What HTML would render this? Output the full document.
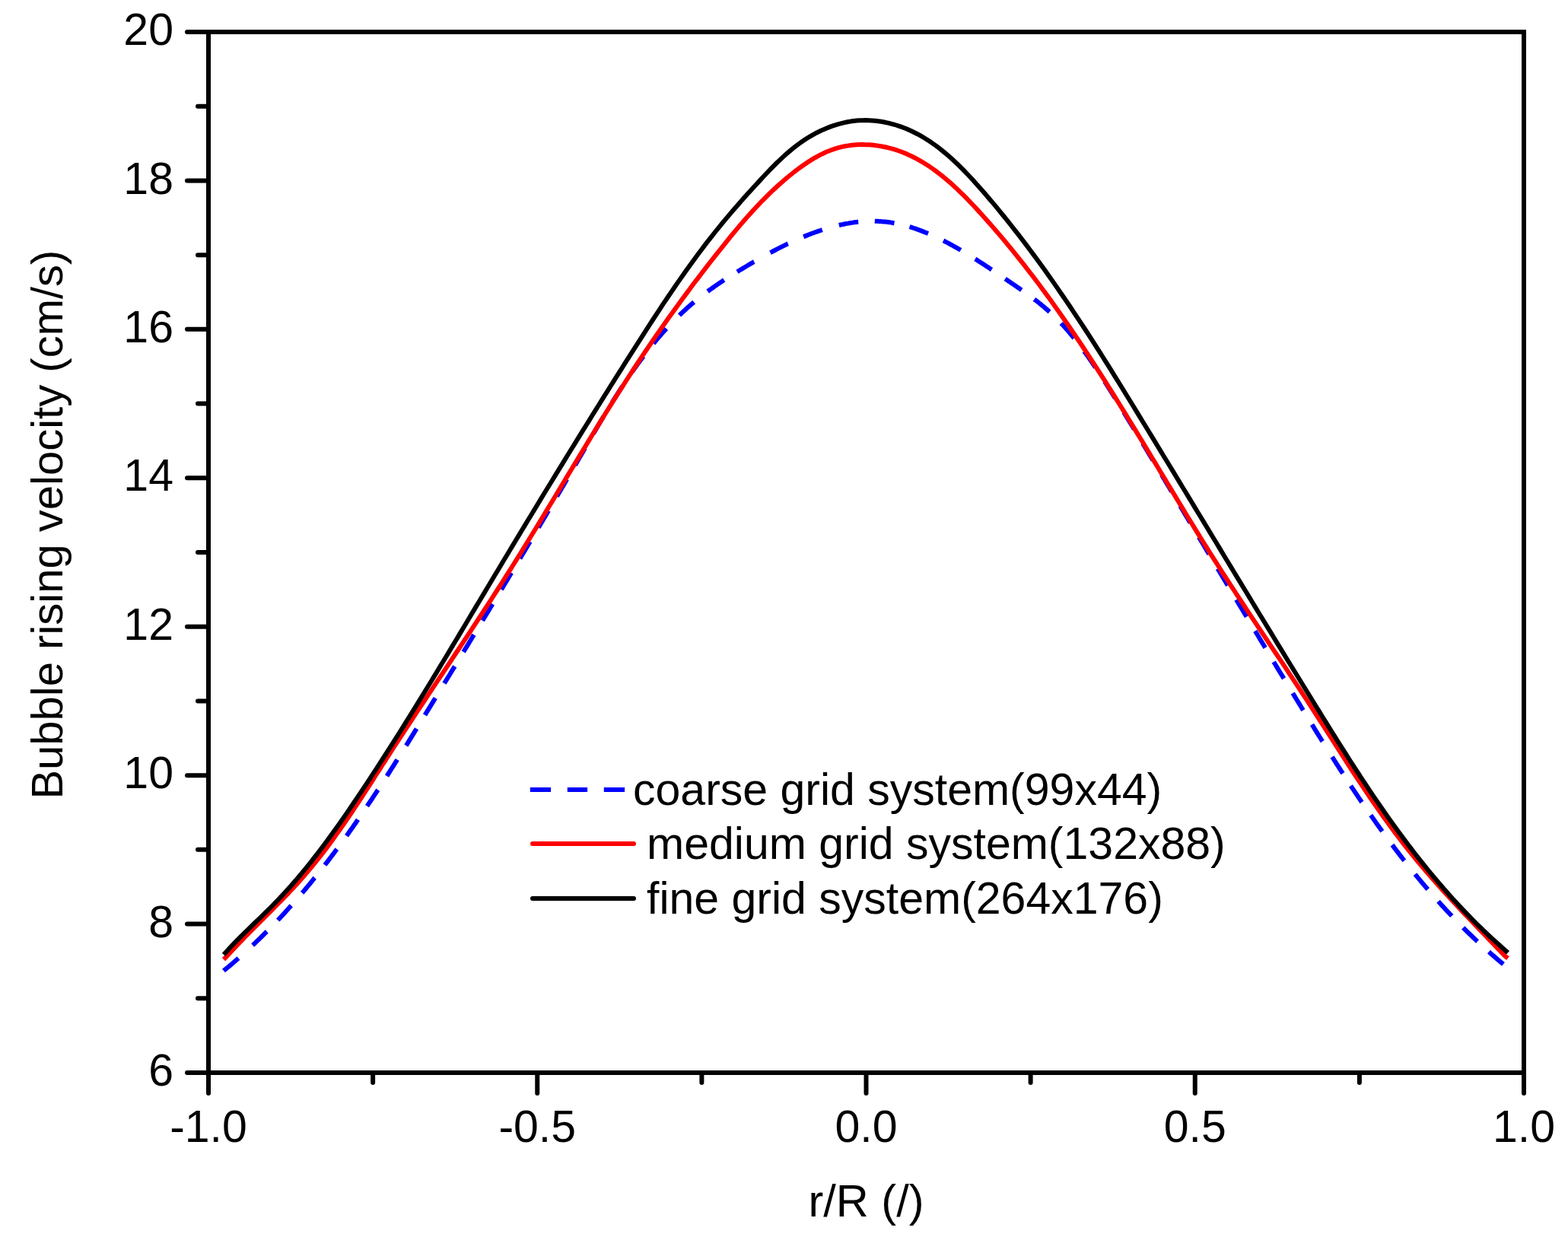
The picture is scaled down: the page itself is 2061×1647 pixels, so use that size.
<!DOCTYPE html>
<html><head><meta charset="utf-8"><title>Bubble rising velocity</title>
<style>
html,body{margin:0;padding:0;background:#fff;}
body{width:2061px;height:1647px;overflow:hidden;}
svg{display:block;}
text{font-family:"Liberation Sans", Arial, Helvetica, sans-serif;fill:#000;}
</style></head><body>
<svg width="2061" height="1647" viewBox="0 0 2061 1647" xmlns="http://www.w3.org/2000/svg">
<rect x="0" y="0" width="2061" height="1647" fill="#fff"/>
<g id="curves" fill="none" stroke-width="6" stroke-linejoin="round">
<path d="M294.0,1276.0 L296.0,1274.3 L298.0,1272.7 L300.0,1271.0 L302.0,1269.4 L304.0,1267.7 L306.0,1266.0 L308.0,1264.3 L310.0,1262.5 L312.0,1260.8 L313.5,1259.5 M332.2,1242.4 L334.2,1240.6 L336.2,1238.6 L338.2,1236.7 L340.2,1234.8 L342.2,1232.9 L344.2,1230.9 L346.2,1228.9 L348.2,1226.9 L350.2,1224.9 L350.8,1224.4 M365.2,1209.5 L367.2,1207.4 L369.2,1205.2 L371.2,1203.1 L373.2,1200.9 L375.2,1198.7 L377.2,1196.5 L379.2,1194.3 L381.2,1192.1 L382.8,1190.4 M397.2,1173.7 L399.2,1171.4 L401.2,1169.0 L403.2,1166.6 L405.2,1164.2 L407.2,1161.8 L409.2,1159.3 L411.2,1156.9 L413.2,1154.4 L413.8,1153.8 M427.0,1137.0 L429.0,1134.4 L431.0,1131.8 L433.0,1129.2 L435.0,1126.5 L437.0,1123.9 L439.0,1121.2 L441.0,1118.5 L442.8,1116.2 M455.5,1098.7 L457.5,1095.9 L459.5,1093.1 L461.5,1090.2 L463.5,1087.4 L465.5,1084.5 L467.5,1081.7 L469.5,1078.8 L470.5,1077.3 M482.5,1059.7 L484.5,1056.7 L486.5,1053.8 L488.5,1050.8 L490.5,1047.7 L492.5,1044.7 L494.5,1041.7 L496.5,1038.6 L496.8,1038.2 M508.5,1020.1 L510.5,1017.0 L512.5,1013.8 L514.5,1010.7 L516.5,1007.6 L518.5,1004.4 L520.5,1001.2 L522.2,998.5 M533.8,980.1 L535.8,976.9 L537.8,973.6 L539.8,970.4 L541.8,967.2 L543.8,963.9 L545.8,960.7 L547.5,957.8 M558.5,939.9 L560.5,936.7 L562.5,933.4 L564.5,930.1 L566.5,926.9 L568.5,923.6 L570.5,920.4 L572.2,917.5 M584.0,898.3 L586.0,895.0 L588.0,891.7 L590.0,888.5 L592.0,885.2 L594.0,881.9 L596.0,878.7 L597.8,875.8 M609.2,856.9 L611.2,853.7 L613.2,850.4 L615.2,847.1 L617.2,843.8 L619.2,840.5 L621.2,837.2 L623.0,834.4 M634.2,815.8 L636.2,812.5 L638.2,809.2 L640.2,805.9 L642.2,802.6 L644.2,799.3 L646.2,796.0 L647.5,794.0 M659.0,774.9 L661.0,771.6 L663.0,768.3 L665.0,765.0 L667.0,761.7 L669.0,758.3 L671.0,755.0 L672.2,752.9 M683.5,734.2 L685.5,730.8 L687.5,727.5 L689.5,724.2 L691.5,720.8 L693.5,717.5 L695.5,714.1 L696.8,712.0 M707.8,693.5 L709.8,690.2 L711.8,686.8 L713.8,683.4 L715.8,680.0 L717.8,676.7 L719.8,673.3 L721.0,671.2 M732.0,652.5 L734.0,649.1 L736.0,645.7 L738.0,642.3 L740.0,638.9 L742.0,635.4 L744.0,632.0 L745.2,629.9 M756.0,611.4 L758.0,608.0 L760.0,604.6 L762.0,601.1 L764.0,597.7 L766.0,594.2 L768.0,590.7 L769.0,589.0 M780.0,570.1 L782.0,566.7 L784.0,563.2 L786.0,559.8 L788.0,556.5 L790.0,553.1 L792.0,549.7 L793.2,547.6 M804.5,529.2 L806.5,525.9 L808.5,522.8 L810.5,519.6 L812.5,516.4 L814.5,513.3 L816.5,510.2 L818.2,507.6 M830.5,489.4 L832.5,486.5 L834.5,483.7 L836.5,480.9 L838.5,478.1 L840.5,475.4 L842.5,472.7 L844.5,470.0 L845.8,468.4 M859.0,451.5 L861.0,449.1 L863.0,446.7 L865.0,444.3 L867.0,442.0 L869.0,439.7 L871.0,437.4 L873.0,435.2 L875.0,433.0 L876.0,431.9 M893.0,414.4 L895.0,412.5 L897.0,410.6 L899.0,408.7 L901.0,406.9 L903.0,405.1 L905.0,403.3 L907.0,401.6 L909.0,399.8 L911.0,398.1 L912.2,397.1 M930.2,383.0 L932.2,381.5 L934.2,380.1 L936.2,378.7 L938.2,377.3 L940.2,375.9 L942.2,374.5 L944.2,373.1 L946.2,371.8 L948.2,370.4 L950.2,369.1 L951.8,368.1 M969.0,357.2 L971.0,356.0 L973.0,354.8 L975.0,353.6 L977.0,352.4 L979.0,351.2 L981.0,350.0 L983.0,348.8 L985.0,347.6 L987.0,346.4 L989.0,345.3 L991.0,344.1 L991.2,344.0 M1012.5,332.1 L1014.5,331.1 L1016.5,330.0 L1018.5,329.0 L1020.5,327.9 L1022.5,326.9 L1024.5,325.9 L1026.5,324.9 L1028.5,323.9 L1030.5,322.9 L1032.5,321.9 L1034.5,320.9 L1035.8,320.4 M1056.2,311.2 L1058.2,310.4 L1060.2,309.6 L1062.2,308.8 L1064.2,308.0 L1066.2,307.2 L1068.2,306.5 L1070.2,305.8 L1072.2,305.0 L1074.2,304.3 L1076.2,303.6 L1078.2,303.0 L1080.2,302.3 L1080.8,302.1 M1102.8,296.0 L1104.8,295.5 L1106.8,295.1 L1108.8,294.7 L1110.8,294.3 L1112.8,293.9 L1114.8,293.6 L1116.8,293.2 L1118.8,292.9 L1120.8,292.6 L1122.8,292.3 L1124.8,292.1 L1126.8,291.8 L1128.2,291.7 M1149.8,290.7 L1151.8,290.8 L1153.8,290.8 L1155.8,290.9 L1157.8,291.1 L1159.8,291.2 L1161.8,291.4 L1163.8,291.6 L1165.8,291.8 L1167.8,292.1 L1169.8,292.3 L1171.8,292.6 L1173.8,293.0 L1175.5,293.3 M1195.5,298.1 L1197.5,298.7 L1199.5,299.4 L1201.5,300.0 L1203.5,300.7 L1205.5,301.4 L1207.5,302.1 L1209.5,302.8 L1211.5,303.6 L1213.5,304.4 L1215.5,305.2 L1217.5,306.0 L1219.5,306.8 L1220.0,307.0 M1240.0,316.3 L1242.0,317.3 L1244.0,318.4 L1246.0,319.4 L1248.0,320.5 L1250.0,321.6 L1252.0,322.7 L1254.0,323.8 L1256.0,324.9 L1258.0,326.0 L1260.0,327.2 L1262.0,328.3 L1262.8,328.8 M1281.8,340.4 L1283.8,341.6 L1285.8,342.9 L1287.8,344.2 L1289.8,345.5 L1291.8,346.8 L1293.8,348.1 L1295.8,349.4 L1297.8,350.7 L1299.8,352.0 L1301.8,353.4 L1303.5,354.5 M1321.2,366.5 L1323.2,367.8 L1325.2,369.2 L1327.2,370.5 L1329.2,371.9 L1331.2,373.2 L1333.2,374.6 L1335.2,376.0 L1337.2,377.4 L1339.2,378.7 L1341.2,380.1 L1342.8,381.2 M1359.5,393.3 L1361.5,394.9 L1363.5,396.4 L1365.5,398.0 L1367.5,399.6 L1369.5,401.3 L1371.5,402.9 L1373.5,404.6 L1375.5,406.4 L1377.5,408.1 L1379.5,409.9 M1394.8,425.0 L1396.8,427.1 L1398.8,429.3 L1400.8,431.6 L1402.8,433.8 L1404.8,436.1 L1406.8,438.5 L1408.8,440.9 L1410.8,443.3 L1411.8,444.5 M1425.0,461.8 L1427.0,464.5 L1429.0,467.3 L1431.0,470.1 L1433.0,473.0 L1435.0,475.9 L1437.0,478.8 L1439.0,481.7 L1440.0,483.2 M1452.0,501.6 L1454.0,504.7 L1456.0,507.9 L1458.0,511.0 L1460.0,514.2 L1462.0,517.4 L1464.0,520.6 L1465.8,523.4 M1477.2,542.1 L1479.2,545.3 L1481.2,548.6 L1483.2,551.9 L1485.2,555.2 L1487.2,558.4 L1489.2,561.7 L1490.8,564.2 M1502.0,582.9 L1504.0,586.2 L1506.0,589.5 L1508.0,592.8 L1510.0,596.2 L1512.0,599.5 L1514.0,602.8 L1515.5,605.3 M1526.8,624.1 L1528.8,627.5 L1530.8,630.8 L1532.8,634.2 L1534.8,637.5 L1536.8,640.8 L1538.8,644.2 L1540.0,646.3 M1551.2,665.1 L1553.2,668.4 L1555.2,671.8 L1557.2,675.1 L1559.2,678.5 L1561.2,681.8 L1563.2,685.1 L1564.5,687.2 M1575.8,706.0 L1577.8,709.4 L1579.8,712.7 L1581.8,716.1 L1583.8,719.4 L1585.8,722.8 L1587.8,726.1 L1589.2,728.6 M1600.5,747.4 L1602.5,750.7 L1604.5,754.1 L1606.5,757.4 L1608.5,760.7 L1610.5,764.1 L1612.5,767.4 L1613.8,769.5 M1625.0,788.3 L1627.0,791.6 L1629.0,794.9 L1631.0,798.2 L1633.0,801.6 L1635.0,804.9 L1637.0,808.2 L1638.5,810.7 M1649.8,829.4 L1651.8,832.7 L1653.8,836.0 L1655.8,839.4 L1657.8,842.7 L1659.8,846.0 L1661.8,849.3 L1663.0,851.4 M1674.2,870.0 L1676.2,873.3 L1678.2,876.6 L1680.2,879.9 L1682.2,883.2 L1684.2,886.5 L1686.2,889.7 L1687.5,891.8 M1699.2,911.1 L1701.2,914.4 L1703.2,917.7 L1705.2,921.0 L1707.2,924.2 L1709.2,927.5 L1711.2,930.8 L1713.0,933.6 M1724.5,952.4 L1726.5,955.6 L1728.5,958.9 L1730.5,962.1 L1732.5,965.3 L1734.5,968.5 L1736.5,971.8 L1738.2,974.6 M1751.0,994.8 L1753.0,998.0 L1755.0,1001.1 L1757.0,1004.3 L1759.0,1007.4 L1761.0,1010.5 L1763.0,1013.6 L1765.0,1016.7 M1775.5,1032.8 L1777.5,1035.8 L1779.5,1038.8 L1781.5,1041.8 L1783.5,1044.8 L1785.5,1047.8 L1787.5,1050.8 L1789.5,1053.7 L1790.0,1054.4 M1801.8,1071.5 L1803.8,1074.4 L1805.8,1077.2 L1807.8,1080.1 L1809.8,1082.9 L1811.8,1085.7 L1813.8,1088.5 L1815.8,1091.3 L1816.8,1092.7 M1830.0,1110.7 L1832.0,1113.3 L1834.0,1116.0 L1836.0,1118.6 L1838.0,1121.2 L1840.0,1123.8 L1842.0,1126.4 L1844.0,1129.0 L1845.8,1131.3 M1860.0,1149.1 L1862.0,1151.5 L1864.0,1154.0 L1866.0,1156.4 L1868.0,1158.8 L1870.0,1161.2 L1872.0,1163.5 L1874.0,1165.9 L1876.0,1168.2 L1876.8,1169.1 M1890.5,1184.8 L1892.5,1187.0 L1894.5,1189.2 L1896.5,1191.4 L1898.5,1193.5 L1900.5,1195.7 L1902.5,1197.9 L1904.5,1200.0 L1906.5,1202.1 L1908.2,1204.0 M1923.2,1219.3 L1925.2,1221.3 L1927.2,1223.3 L1929.2,1225.3 L1931.2,1227.2 L1933.2,1229.1 L1935.2,1231.1 L1937.2,1233.0 L1939.2,1234.9 L1941.2,1236.8 L1942.0,1237.5 M1957.0,1251.1 L1959.0,1252.9 L1961.0,1254.7 L1963.0,1256.4 L1965.0,1258.1 L1967.0,1259.9 L1969.0,1261.6 L1971.0,1263.3 L1973.0,1264.9 L1975.0,1266.6 L1976.0,1267.4" stroke="#00f" stroke-linecap="butt"/>
<path d="M294.0,1261.1 L298.0,1257.1 L302.0,1252.7 L306.0,1248.4 L310.0,1244.1 L314.0,1239.9 L318.0,1235.8 L322.0,1231.7 L326.0,1227.6 L330.0,1223.6 L334.0,1219.6 L338.0,1215.6 L342.0,1211.6 L346.0,1207.6 L350.0,1203.6 L354.0,1199.6 L358.0,1195.6 L362.0,1191.5 L366.0,1187.5 L370.0,1183.4 L374.0,1179.2 L378.0,1175.1 L382.0,1170.8 L386.0,1166.6 L390.0,1162.2 L394.0,1157.8 L398.0,1153.2 L402.0,1148.6 L406.0,1143.9 L410.0,1139.1 L414.0,1134.2 L418.0,1129.2 L422.0,1124.1 L426.0,1118.9 L430.0,1113.6 L434.0,1108.2 L438.0,1102.7 L442.0,1097.1 L446.0,1091.5 L450.0,1085.8 L454.0,1080.0 L458.0,1074.1 L462.0,1068.2 L466.0,1062.2 L470.0,1056.1 L474.0,1050.0 L478.0,1043.9 L482.0,1037.7 L486.0,1031.5 L490.0,1025.3 L494.0,1019.0 L498.0,1012.8 L502.0,1006.5 L506.0,1000.3 L510.0,994.1 L514.0,987.9 L518.0,981.7 L522.0,975.6 L526.0,969.4 L530.0,963.3 L534.0,957.2 L538.0,951.1 L542.0,945.0 L546.0,938.9 L550.0,932.9 L554.0,926.8 L558.0,920.8 L562.0,914.7 L566.0,908.7 L570.0,902.7 L574.0,896.7 L578.0,890.6 L582.0,884.6 L586.0,878.6 L590.0,872.6 L594.0,866.6 L598.0,860.5 L602.0,854.5 L606.0,848.4 L610.0,842.4 L614.0,836.3 L618.0,830.3 L622.0,824.2 L626.0,818.1 L630.0,812.0 L634.0,805.9 L638.0,799.7 L642.0,793.6 L646.0,787.4 L650.0,781.2 L654.0,775.0 L658.0,768.8 L662.0,762.5 L666.0,756.2 L670.0,749.9 L674.0,743.5 L678.0,737.2 L682.0,730.7 L686.0,724.3 L690.0,717.8 L694.0,711.3 L698.0,704.8 L702.0,698.3 L706.0,691.7 L710.0,685.1 L714.0,678.5 L718.0,671.9 L722.0,665.3 L726.0,658.7 L730.0,652.0 L734.0,645.4 L738.0,638.7 L742.0,632.1 L746.0,625.4 L750.0,618.8 L754.0,612.1 L758.0,605.5 L762.0,598.9 L766.0,592.3 L770.0,585.7 L774.0,579.1 L778.0,572.5 L782.0,566.0 L786.0,559.4 L790.0,552.9 L794.0,546.5 L798.0,540.0 L802.0,533.6 L806.0,527.2 L810.0,520.9 L814.0,514.5 L818.0,508.3 L822.0,502.0 L826.0,495.8 L830.0,489.7 L834.0,483.5 L838.0,477.5 L842.0,471.4 L846.0,465.4 L850.0,459.5 L854.0,453.6 L858.0,447.7 L862.0,441.9 L866.0,436.2 L870.0,430.4 L874.0,424.7 L878.0,419.1 L882.0,413.5 L886.0,407.9 L890.0,402.4 L894.0,396.9 L898.0,391.5 L902.0,386.1 L906.0,380.7 L910.0,375.3 L914.0,370.0 L918.0,364.8 L922.0,359.5 L926.0,354.3 L930.0,349.2 L934.0,344.0 L938.0,338.9 L942.0,333.8 L946.0,328.8 L950.0,323.8 L954.0,318.8 L958.0,313.8 L962.0,308.9 L966.0,304.1 L970.0,299.3 L974.0,294.6 L978.0,290.0 L982.0,285.4 L986.0,280.9 L990.0,276.5 L994.0,272.2 L998.0,268.0 L1002.0,263.8 L1006.0,259.8 L1010.0,255.8 L1014.0,251.9 L1018.0,248.2 L1022.0,244.5 L1026.0,240.9 L1030.0,237.4 L1034.0,234.0 L1038.0,230.7 L1042.0,227.5 L1046.0,224.4 L1050.0,221.4 L1054.0,218.5 L1058.0,215.7 L1062.0,213.0 L1066.0,210.4 L1070.0,208.0 L1074.0,205.8 L1078.0,203.6 L1082.0,201.7 L1086.0,199.8 L1090.0,198.2 L1094.0,196.7 L1098.0,195.3 L1102.0,194.2 L1106.0,193.1 L1110.0,192.3 L1114.0,191.6 L1118.0,191.0 L1122.0,190.6 L1126.0,190.3 L1130.0,190.1 L1134.0,190.1 L1138.0,190.2 L1142.0,190.3 L1146.0,190.6 L1150.0,191.0 L1154.0,191.6 L1158.0,192.2 L1162.0,193.0 L1166.0,193.8 L1170.0,194.8 L1174.0,195.9 L1178.0,197.2 L1182.0,198.5 L1186.0,200.0 L1190.0,201.6 L1194.0,203.4 L1198.0,205.2 L1202.0,207.2 L1206.0,209.4 L1210.0,211.6 L1214.0,214.0 L1218.0,216.5 L1222.0,219.1 L1226.0,221.9 L1230.0,224.8 L1234.0,227.8 L1238.0,230.9 L1242.0,234.2 L1246.0,237.6 L1250.0,241.1 L1254.0,244.7 L1258.0,248.4 L1262.0,252.3 L1266.0,256.2 L1270.0,260.2 L1274.0,264.3 L1278.0,268.5 L1282.0,272.8 L1286.0,277.1 L1290.0,281.5 L1294.0,286.0 L1298.0,290.5 L1302.0,295.0 L1306.0,299.6 L1310.0,304.2 L1314.0,308.9 L1318.0,313.7 L1322.0,318.4 L1326.0,323.3 L1330.0,328.2 L1334.0,333.1 L1338.0,338.1 L1342.0,343.1 L1346.0,348.2 L1350.0,353.3 L1354.0,358.5 L1358.0,363.7 L1362.0,369.0 L1366.0,374.3 L1370.0,379.7 L1374.0,385.1 L1378.0,390.6 L1382.0,396.1 L1386.0,401.7 L1390.0,407.3 L1394.0,413.0 L1398.0,418.7 L1402.0,424.5 L1406.0,430.3 L1410.0,436.2 L1414.0,442.1 L1418.0,448.0 L1422.0,454.0 L1426.0,460.1 L1430.0,466.1 L1434.0,472.3 L1438.0,478.4 L1442.0,484.6 L1446.0,490.9 L1450.0,497.1 L1454.0,503.4 L1458.0,509.8 L1462.0,516.1 L1466.0,522.6 L1470.0,529.0 L1474.0,535.5 L1478.0,541.9 L1482.0,548.5 L1486.0,555.0 L1490.0,561.6 L1494.0,568.1 L1498.0,574.7 L1502.0,581.3 L1506.0,588.0 L1510.0,594.6 L1514.0,601.2 L1518.0,607.9 L1522.0,614.5 L1526.0,621.2 L1530.0,627.8 L1534.0,634.5 L1538.0,641.1 L1542.0,647.8 L1546.0,654.4 L1550.0,661.0 L1554.0,667.6 L1558.0,674.2 L1562.0,680.8 L1566.0,687.3 L1570.0,693.9 L1574.0,700.4 L1578.0,706.8 L1582.0,713.3 L1586.0,719.7 L1590.0,726.1 L1594.0,732.4 L1598.0,738.7 L1602.0,745.0 L1606.0,751.3 L1610.0,757.5 L1614.0,763.7 L1618.0,769.8 L1622.0,775.9 L1626.0,782.1 L1630.0,788.1 L1634.0,794.2 L1638.0,800.3 L1642.0,806.3 L1646.0,812.3 L1650.0,818.3 L1654.0,824.3 L1658.0,830.3 L1662.0,836.3 L1666.0,842.3 L1670.0,848.3 L1674.0,854.3 L1678.0,860.2 L1682.0,866.2 L1686.0,872.2 L1690.0,878.2 L1694.0,884.3 L1698.0,890.3 L1702.0,896.3 L1706.0,902.4 L1710.0,908.5 L1714.0,914.6 L1718.0,920.7 L1722.0,926.9 L1726.0,933.0 L1730.0,939.3 L1734.0,945.5 L1738.0,951.7 L1742.0,958.0 L1746.0,964.2 L1750.0,970.5 L1754.0,976.7 L1758.0,983.0 L1762.0,989.2 L1766.0,995.5 L1770.0,1001.7 L1774.0,1007.8 L1778.0,1014.0 L1782.0,1020.1 L1786.0,1026.2 L1790.0,1032.2 L1794.0,1038.2 L1798.0,1044.1 L1802.0,1050.0 L1806.0,1055.8 L1810.0,1061.6 L1814.0,1067.3 L1818.0,1073.0 L1822.0,1078.5 L1826.0,1084.1 L1830.0,1089.5 L1834.0,1094.9 L1838.0,1100.2 L1842.0,1105.4 L1846.0,1110.6 L1850.0,1115.7 L1854.0,1120.7 L1858.0,1125.6 L1862.0,1130.5 L1866.0,1135.3 L1870.0,1140.0 L1874.0,1144.7 L1878.0,1149.4 L1882.0,1154.0 L1886.0,1158.5 L1890.0,1163.0 L1894.0,1167.5 L1898.0,1171.9 L1902.0,1176.3 L1906.0,1180.7 L1910.0,1185.0 L1914.0,1189.3 L1918.0,1193.6 L1922.0,1197.9 L1926.0,1202.1 L1930.0,1206.3 L1934.0,1210.5 L1938.0,1214.7 L1942.0,1218.9 L1946.0,1223.1 L1950.0,1227.3 L1954.0,1231.5 L1958.0,1235.6 L1962.0,1239.8 L1966.0,1244.0 L1970.0,1248.1 L1974.0,1252.3 L1978.0,1256.5 L1982.0,1259.7" stroke="#f00"/>
<path d="M294.0,1254.8 L298.0,1250.4 L302.0,1246.0 L306.0,1241.8 L310.0,1237.7 L314.0,1233.6 L318.0,1229.6 L322.0,1225.7 L326.0,1221.8 L330.0,1217.9 L334.0,1214.0 L338.0,1210.2 L342.0,1206.3 L346.0,1202.4 L350.0,1198.5 L354.0,1194.5 L358.0,1190.5 L362.0,1186.4 L366.0,1182.3 L370.0,1178.0 L374.0,1173.7 L378.0,1169.3 L382.0,1164.9 L386.0,1160.3 L390.0,1155.7 L394.0,1151.0 L398.0,1146.2 L402.0,1141.3 L406.0,1136.4 L410.0,1131.3 L414.0,1126.2 L418.0,1121.1 L422.0,1115.8 L426.0,1110.5 L430.0,1105.1 L434.0,1099.6 L438.0,1094.1 L442.0,1088.5 L446.0,1082.9 L450.0,1077.2 L454.0,1071.4 L458.0,1065.6 L462.0,1059.7 L466.0,1053.8 L470.0,1047.9 L474.0,1041.9 L478.0,1035.9 L482.0,1029.9 L486.0,1023.8 L490.0,1017.7 L494.0,1011.6 L498.0,1005.4 L502.0,999.2 L506.0,993.0 L510.0,986.7 L514.0,980.5 L518.0,974.2 L522.0,967.8 L526.0,961.5 L530.0,955.1 L534.0,948.7 L538.0,942.3 L542.0,935.8 L546.0,929.4 L550.0,922.9 L554.0,916.4 L558.0,909.8 L562.0,903.3 L566.0,896.7 L570.0,890.1 L574.0,883.6 L578.0,876.9 L582.0,870.3 L586.0,863.7 L590.0,857.1 L594.0,850.4 L598.0,843.7 L602.0,837.1 L606.0,830.4 L610.0,823.7 L614.0,817.0 L618.0,810.3 L622.0,803.6 L626.0,796.9 L630.0,790.3 L634.0,783.6 L638.0,776.9 L642.0,770.2 L646.0,763.5 L650.0,756.8 L654.0,750.2 L658.0,743.5 L662.0,736.8 L666.0,730.2 L670.0,723.5 L674.0,716.9 L678.0,710.2 L682.0,703.6 L686.0,697.0 L690.0,690.4 L694.0,683.8 L698.0,677.2 L702.0,670.6 L706.0,664.0 L710.0,657.4 L714.0,650.8 L718.0,644.3 L722.0,637.7 L726.0,631.2 L730.0,624.6 L734.0,618.1 L738.0,611.6 L742.0,605.1 L746.0,598.5 L750.0,592.0 L754.0,585.6 L758.0,579.1 L762.0,572.6 L766.0,566.2 L770.0,559.7 L774.0,553.3 L778.0,546.8 L782.0,540.4 L786.0,534.0 L790.0,527.6 L794.0,521.2 L798.0,514.8 L802.0,508.4 L806.0,502.1 L810.0,495.7 L814.0,489.4 L818.0,483.1 L822.0,476.7 L826.0,470.4 L830.0,464.1 L834.0,457.9 L838.0,451.6 L842.0,445.3 L846.0,439.1 L850.0,432.9 L854.0,426.7 L858.0,420.5 L862.0,414.4 L866.0,408.3 L870.0,402.2 L874.0,396.2 L878.0,390.3 L882.0,384.3 L886.0,378.5 L890.0,372.6 L894.0,366.9 L898.0,361.2 L902.0,355.5 L906.0,349.9 L910.0,344.4 L914.0,338.9 L918.0,333.5 L922.0,328.2 L926.0,322.9 L930.0,317.7 L934.0,312.6 L938.0,307.5 L942.0,302.5 L946.0,297.6 L950.0,292.7 L954.0,287.9 L958.0,283.1 L962.0,278.4 L966.0,273.8 L970.0,269.2 L974.0,264.6 L978.0,260.1 L982.0,255.6 L986.0,251.2 L990.0,246.8 L994.0,242.4 L998.0,238.1 L1002.0,233.8 L1006.0,229.5 L1010.0,225.3 L1014.0,221.1 L1018.0,217.1 L1022.0,213.1 L1026.0,209.3 L1030.0,205.6 L1034.0,202.0 L1038.0,198.6 L1042.0,195.3 L1046.0,192.1 L1050.0,189.1 L1054.0,186.3 L1058.0,183.6 L1062.0,181.0 L1066.0,178.6 L1070.0,176.4 L1074.0,174.2 L1078.0,172.3 L1082.0,170.4 L1086.0,168.7 L1090.0,167.1 L1094.0,165.6 L1098.0,164.3 L1102.0,163.1 L1106.0,162.1 L1110.0,161.1 L1114.0,160.3 L1118.0,159.6 L1122.0,159.1 L1126.0,158.6 L1130.0,158.3 L1134.0,158.2 L1138.0,158.1 L1142.0,158.2 L1146.0,158.5 L1150.0,158.8 L1154.0,159.3 L1158.0,159.8 L1162.0,160.5 L1166.0,161.4 L1170.0,162.3 L1174.0,163.3 L1178.0,164.5 L1182.0,165.8 L1186.0,167.2 L1190.0,168.8 L1194.0,170.4 L1198.0,172.2 L1202.0,174.2 L1206.0,176.2 L1210.0,178.4 L1214.0,180.8 L1218.0,183.2 L1222.0,185.8 L1226.0,188.6 L1230.0,191.4 L1234.0,194.4 L1238.0,197.6 L1242.0,200.9 L1246.0,204.3 L1250.0,207.8 L1254.0,211.5 L1258.0,215.2 L1262.0,219.1 L1266.0,223.1 L1270.0,227.3 L1274.0,231.5 L1278.0,235.8 L1282.0,240.2 L1286.0,244.7 L1290.0,249.2 L1294.0,253.8 L1298.0,258.5 L1302.0,263.2 L1306.0,267.9 L1310.0,272.7 L1314.0,277.6 L1318.0,282.5 L1322.0,287.4 L1326.0,292.4 L1330.0,297.5 L1334.0,302.6 L1338.0,307.7 L1342.0,312.9 L1346.0,318.1 L1350.0,323.4 L1354.0,328.7 L1358.0,334.1 L1362.0,339.5 L1366.0,345.0 L1370.0,350.5 L1374.0,356.1 L1378.0,361.7 L1382.0,367.4 L1386.0,373.1 L1390.0,378.9 L1394.0,384.7 L1398.0,390.5 L1402.0,396.4 L1406.0,402.3 L1410.0,408.3 L1414.0,414.3 L1418.0,420.3 L1422.0,426.4 L1426.0,432.5 L1430.0,438.7 L1434.0,444.9 L1438.0,451.1 L1442.0,457.4 L1446.0,463.7 L1450.0,470.0 L1454.0,476.4 L1458.0,482.7 L1462.0,489.1 L1466.0,495.6 L1470.0,502.0 L1474.0,508.5 L1478.0,515.0 L1482.0,521.5 L1486.0,528.0 L1490.0,534.5 L1494.0,541.1 L1498.0,547.6 L1502.0,554.2 L1506.0,560.7 L1510.0,567.3 L1514.0,573.9 L1518.0,580.4 L1522.0,587.0 L1526.0,593.6 L1530.0,600.2 L1534.0,606.7 L1538.0,613.3 L1542.0,619.9 L1546.0,626.5 L1550.0,633.1 L1554.0,639.7 L1558.0,646.3 L1562.0,652.9 L1566.0,659.5 L1570.0,666.1 L1574.0,672.7 L1578.0,679.3 L1582.0,685.9 L1586.0,692.5 L1590.0,699.1 L1594.0,705.7 L1598.0,712.3 L1602.0,718.9 L1606.0,725.6 L1610.0,732.2 L1614.0,738.8 L1618.0,745.4 L1622.0,752.0 L1626.0,758.6 L1630.0,765.1 L1634.0,771.7 L1638.0,778.3 L1642.0,784.9 L1646.0,791.5 L1650.0,798.1 L1654.0,804.7 L1658.0,811.2 L1662.0,817.8 L1666.0,824.4 L1670.0,830.9 L1674.0,837.5 L1678.0,844.1 L1682.0,850.6 L1686.0,857.1 L1690.0,863.7 L1694.0,870.2 L1698.0,876.8 L1702.0,883.3 L1706.0,889.8 L1710.0,896.3 L1714.0,902.8 L1718.0,909.3 L1722.0,915.8 L1726.0,922.3 L1730.0,928.8 L1734.0,935.2 L1738.0,941.7 L1742.0,948.1 L1746.0,954.6 L1750.0,961.0 L1754.0,967.4 L1758.0,973.8 L1762.0,980.1 L1766.0,986.4 L1770.0,992.7 L1774.0,999.0 L1778.0,1005.2 L1782.0,1011.4 L1786.0,1017.5 L1790.0,1023.6 L1794.0,1029.7 L1798.0,1035.7 L1802.0,1041.6 L1806.0,1047.6 L1810.0,1053.4 L1814.0,1059.2 L1818.0,1065.0 L1822.0,1070.7 L1826.0,1076.4 L1830.0,1082.0 L1834.0,1087.5 L1838.0,1093.0 L1842.0,1098.5 L1846.0,1103.9 L1850.0,1109.2 L1854.0,1114.4 L1858.0,1119.7 L1862.0,1124.8 L1866.0,1129.9 L1870.0,1134.9 L1874.0,1139.9 L1878.0,1144.8 L1882.0,1149.6 L1886.0,1154.4 L1890.0,1159.2 L1894.0,1163.8 L1898.0,1168.4 L1902.0,1173.0 L1906.0,1177.5 L1910.0,1181.9 L1914.0,1186.3 L1918.0,1190.6 L1922.0,1194.9 L1926.0,1199.1 L1930.0,1203.2 L1934.0,1207.3 L1938.0,1211.3 L1942.0,1215.3 L1946.0,1219.2 L1950.0,1223.1 L1954.0,1226.9 L1958.0,1230.7 L1962.0,1234.4 L1966.0,1238.0 L1970.0,1241.6 L1974.0,1245.2 L1978.0,1248.7 L1982.0,1252.2" stroke="#000"/>
</g>
<rect x="274" y="42" width="1729" height="1368" fill="none" stroke="#000" stroke-width="6"/>
<g stroke="#000" stroke-width="6" stroke-linecap="round">
<line x1="246" y1="1410.00" x2="274" y2="1410.00"/>
<line x1="260" y1="1312.29" x2="274" y2="1312.29"/>
<line x1="246" y1="1214.57" x2="274" y2="1214.57"/>
<line x1="260" y1="1116.86" x2="274" y2="1116.86"/>
<line x1="246" y1="1019.14" x2="274" y2="1019.14"/>
<line x1="260" y1="921.43" x2="274" y2="921.43"/>
<line x1="246" y1="823.71" x2="274" y2="823.71"/>
<line x1="260" y1="726.00" x2="274" y2="726.00"/>
<line x1="246" y1="628.29" x2="274" y2="628.29"/>
<line x1="260" y1="530.57" x2="274" y2="530.57"/>
<line x1="246" y1="432.86" x2="274" y2="432.86"/>
<line x1="260" y1="335.14" x2="274" y2="335.14"/>
<line x1="246" y1="237.43" x2="274" y2="237.43"/>
<line x1="260" y1="139.71" x2="274" y2="139.71"/>
<line x1="246" y1="42.00" x2="274" y2="42.00"/>
<line x1="274.00" y1="1410" x2="274.00" y2="1437"/>
<line x1="490.12" y1="1410" x2="490.12" y2="1423"/>
<line x1="706.25" y1="1410" x2="706.25" y2="1437"/>
<line x1="922.38" y1="1410" x2="922.38" y2="1423"/>
<line x1="1138.50" y1="1410" x2="1138.50" y2="1437"/>
<line x1="1354.62" y1="1410" x2="1354.62" y2="1423"/>
<line x1="1570.75" y1="1410" x2="1570.75" y2="1437"/>
<line x1="1786.88" y1="1410" x2="1786.88" y2="1423"/>
<line x1="2003.00" y1="1410" x2="2003.00" y2="1437"/>
</g>
<g font-size="59px">
<text x="228" y="1427.20" text-anchor="end">6</text>
<text x="228" y="1231.77" text-anchor="end">8</text>
<text x="228" y="1036.34" text-anchor="end">10</text>
<text x="228" y="840.91" text-anchor="end">12</text>
<text x="228" y="645.49" text-anchor="end">14</text>
<text x="228" y="450.06" text-anchor="end">16</text>
<text x="228" y="254.63" text-anchor="end">18</text>
<text x="228" y="59.20" text-anchor="end">20</text>
<text x="274.00" y="1500.7" text-anchor="middle">-1.0</text>
<text x="706.25" y="1500.7" text-anchor="middle">-0.5</text>
<text x="1138.50" y="1500.7" text-anchor="middle">0.0</text>
<text x="1570.75" y="1500.7" text-anchor="middle">0.5</text>
<text x="2003.00" y="1500.7" text-anchor="middle">1.0</text>
</g>
<text x="1138.5" y="1598.7" font-size="59.5px" text-anchor="middle">r/R (/)</text>
<text transform="translate(81.9,689.6) rotate(-90)" font-size="58px" text-anchor="middle">Bubble rising velocity (cm/s)</text>
<g id="legend">
<path d="M696.8,1038 H724.1 M745.8,1038 H772.1 M793.8,1038 H821.1" stroke="#00f" stroke-width="6" fill="none"/>
<line x1="700" y1="1109" x2="833" y2="1109" stroke="#f00" stroke-width="6" stroke-linecap="round"/>
<line x1="700" y1="1181" x2="833" y2="1181" stroke="#000" stroke-width="6" stroke-linecap="round"/>
<g font-size="59px">
<text x="832" y="1058">coarse grid system(99x44)</text>
<text x="850" y="1128.9">medium grid system(132x88)</text>
<text x="850" y="1200.8">fine grid system(264x176)</text>
</g>
</g>
</svg>
</body></html>
